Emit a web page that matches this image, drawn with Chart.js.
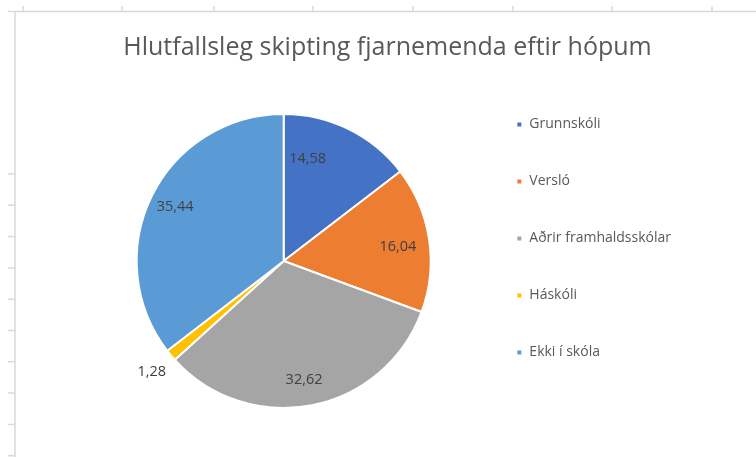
<!DOCTYPE html>
<html>
<head>
<meta charset="utf-8">
<script src="https://cdn.jsdelivr.net/npm/chart.js@4"></script>
<style>
  html, body { margin: 0; padding: 0; background: #fff; }
  #wrap { position: relative; width: 756px; height: 457px; }
</style>
</head>
<body>
<div id="wrap"><canvas id="pieChart" width="756" height="457"></canvas></div>
<script>
const titleText = 'Hlutfallsleg skipting fjarnemenda eftir hópum';
const groups = ['Grunnskóli', 'Versló', 'Aðrir framhaldsskólar', 'Háskóli', 'Ekki í skóla'];
const shares = [14.58, 16.04, 32.62, 1.28, 35.44];
const sliceColors = ['#4472C4', '#ED7D31', '#A5A5A5', '#FFC000', '#5B9BD5'];

// faint spreadsheet grid behind the chart object
const sheetFrame = {
  id: 'sheetFrame',
  beforeDraw(chart) {
    const ctx = chart.ctx;
    ctx.save();
    ctx.strokeStyle = '#d9d9d9';
    ctx.lineWidth = 1.5;
    ctx.beginPath();
    ctx.moveTo(8, 11.5); ctx.lineTo(756, 11.5);
    ctx.moveTo(15, 11.5); ctx.lineTo(15, 457);
    [23, 122, 214, 313, 413, 513, 612, 712].forEach(x => { ctx.moveTo(x, 6); ctx.lineTo(x, 11.5); });
    for (let y = 174; y < 460; y += 31.3) { ctx.moveTo(8, y); ctx.lineTo(15, y); }
    ctx.stroke();
    ctx.restore();
  }
};

// value labels on the slices, comma as decimal mark
const sliceLabels = {
  id: 'sliceLabels',
  afterDatasetsDraw(chart, args, opts) {
    const ctx = chart.ctx;
    const meta = chart.getDatasetMeta(0);
    ctx.save();
    ctx.font = opts.font;
    ctx.fillStyle = opts.color;
    ctx.textAlign = 'center';
    ctx.textBaseline = 'middle';
    meta.data.forEach((arc, i) => {
      const p = arc.getProps(['x', 'y', 'startAngle', 'endAngle', 'outerRadius']);
      const mid = (p.startAngle + p.endAngle) / 2;
      const small = (p.endAngle - p.startAngle) < 0.2;
      const r = small ? p.outerRadius + 25 : p.outerRadius * 0.8;
      const nudge = opts.nudge[i] || [0, 0];
      const x = p.x + Math.cos(mid) * r + nudge[0];
      const y = p.y + Math.sin(mid) * r + nudge[1];
      ctx.fillText(shares[i].toFixed(2).replace('.', ','), x, y);
    });
    ctx.restore();
  }
};

new Chart(document.getElementById('pieChart'), {
  type: 'pie',
  data: {
    labels: groups,
    datasets: [{
      data: shares,
      backgroundColor: sliceColors,
      borderColor: '#ffffff',
      borderWidth: 2,
      radius: 147
    }]
  },
  options: {
    responsive: false,
    animation: false,
    layout: { padding: { top: 20, left: 94, right: 75, bottom: 6 } },
    plugins: {
      title: {
        display: true,
        text: titleText,
        color: '#595959',
        font: { family: '"Open Sans", sans-serif', size: 25, weight: 'normal' },
        padding: { top: 13, bottom: 8 }
      },
      legend: {
        position: 'right',
        align: 'center',
        // empty spacer title nudges the items down a few pixels
        title: { display: true, text: ' ', font: { size: 5 }, padding: 0 },
        labels: {
          color: '#595959',
          font: { family: '"Open Sans", sans-serif', size: 14 },
          boxWidth: 6,
          boxHeight: 6,
          padding: 43
        }
      },
      tooltip: { enabled: false },
      sliceLabels: {
        font: '14.5px "Open Sans", sans-serif',
        color: '#404040',
        nudge: { 0: [-28, 3], 1: [-2, 3], 2: [-2, 3], 4: [-3, -2] }
      }
    }
  },
  plugins: [sheetFrame, sliceLabels]
});
</script>
</body>
</html>
